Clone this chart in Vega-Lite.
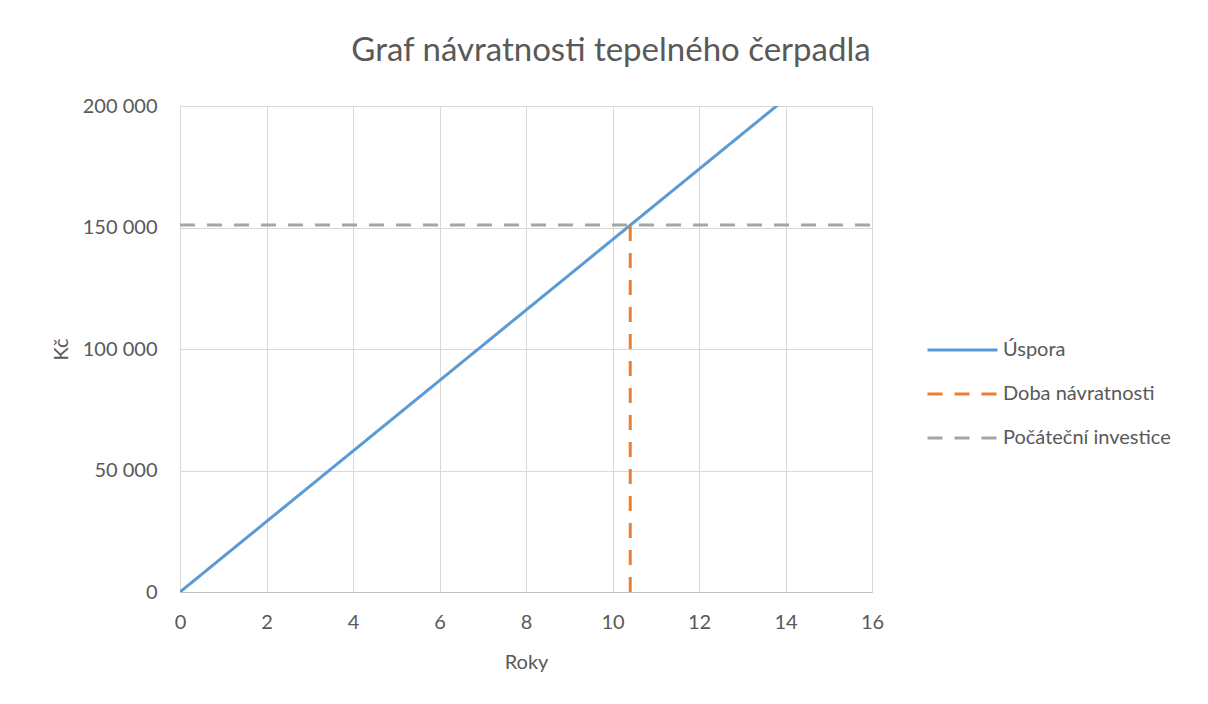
{
  "$schema": "https://vega.github.io/schema/vega-lite/v6.json",
  "width": 692,
  "height": 486,
  "autosize": {"type": "none"},
  "padding": {"left": 180, "top": 106, "right": 336, "bottom": 112},
  "background": "white",
  "title": {
    "text": "Graf návratnosti tepelného čerpadla",
    "anchor": "middle",
    "dx": 85,
    "dy": 40,
    "offset": 42,
    "baseline": "alphabetic",
    "font": "Lato",
    "fontWeight": "normal",
    "fontSize": 33,
    "color": "#595959"
  },
  "data": {
    "values": [
      {"x": 0, "y": 0, "series": "Úspora", "o": 0},
      {"x": 1, "y": 14500, "series": "Úspora", "o": 1},
      {"x": 2, "y": 29000, "series": "Úspora", "o": 2},
      {"x": 3, "y": 43500, "series": "Úspora", "o": 3},
      {"x": 4, "y": 58000, "series": "Úspora", "o": 4},
      {"x": 5, "y": 72500, "series": "Úspora", "o": 5},
      {"x": 6, "y": 87000, "series": "Úspora", "o": 6},
      {"x": 7, "y": 101500, "series": "Úspora", "o": 7},
      {"x": 8, "y": 116000, "series": "Úspora", "o": 8},
      {"x": 9, "y": 130500, "series": "Úspora", "o": 9},
      {"x": 10, "y": 145000, "series": "Úspora", "o": 10},
      {"x": 11, "y": 159500, "series": "Úspora", "o": 11},
      {"x": 12, "y": 174000, "series": "Úspora", "o": 12},
      {"x": 13, "y": 188500, "series": "Úspora", "o": 13},
      {"x": 14, "y": 203000, "series": "Úspora", "o": 14},
      {"x": 15, "y": 217500, "series": "Úspora", "o": 15},
      {"x": 16, "y": 232000, "series": "Úspora", "o": 16},
      {"x": 10.41, "y": 0, "series": "Doba návratnosti", "o": 0},
      {"x": 10.41, "y": 151000, "series": "Doba návratnosti", "o": 1},
      {"x": 0, "y": 151000, "series": "Počáteční investice", "o": 0},
      {"x": 16, "y": 151000, "series": "Počáteční investice", "o": 1}
    ]
  },
  "mark": {"type": "line", "strokeWidth": 3, "clip": true},
  "encoding": {
    "x": {
      "field": "x",
      "type": "quantitative",
      "scale": {"domain": [0, 16], "nice": false, "zero": true},
      "axis": {
        "title": "Roky",
        "values": [0, 2, 4, 6, 8, 10, 12, 14, 16],
        "format": "d",
        "ticks": false,
        "domain": true,
        "domainColor": "#bfbfbf",
        "labelFlush": false,
        "labelPadding": 20,
        "titlePadding": 20
      }
    },
    "y": {
      "field": "y",
      "type": "quantitative",
      "scale": {"domain": [0, 200000], "nice": false},
      "axis": {
        "title": "Kč",
        "values": [0, 50000, 100000, 150000, 200000],
        "format": ",d",
        "ticks": false,
        "domain": false,
        "labelFlush": false,
        "labelPadding": 23,
        "titlePadding": 11
      }
    },
    "order": {"field": "o", "type": "quantitative"},
    "color": {
      "field": "series",
      "type": "nominal",
      "scale": {
        "domain": ["Úspora", "Doba návratnosti", "Počáteční investice"],
        "range": ["#5b9bd5", "#ed7d31", "#a5a5a5"]
      },
      "legend": {
        "title": null,
        "orient": "none",
        "legendX": 746,
        "legendY": 234,
        "symbolType": "stroke",
        "symbolSize": 4900,
        "symbolStrokeWidth": 3,
        "clipHeight": 20,
        "rowPadding": 24,
        "labelOffset": 4,
        "labelLimit": 400,
        "labelFont": "Lato",
        "labelFontSize": 20,
        "labelColor": "#595959"
      }
    },
    "strokeDash": {
      "field": "series",
      "type": "nominal",
      "scale": {
        "domain": ["Úspora", "Doba návratnosti", "Počáteční investice"],
        "range": [[1, 0], [15, 12], [15, 12]]
      },
      "legend": {
        "title": null,
        "orient": "none",
        "legendX": 746,
        "legendY": 234,
        "symbolType": "stroke",
        "symbolSize": 4900,
        "symbolStrokeWidth": 3,
        "clipHeight": 20,
        "rowPadding": 24,
        "labelOffset": 4,
        "labelLimit": 400,
        "labelFont": "Lato",
        "labelFontSize": 20,
        "labelColor": "#595959"
      }
    }
  },
  "config": {
    "locale": {
      "number": {"decimal": ",", "thousands": " ", "grouping": [3], "currency": ["", " Kč"]}
    },
    "view": {"stroke": null},
    "axis": {
      "grid": true,
      "gridColor": "#d9d9d9",
      "gridWidth": 1,
      "labelFont": "Lato",
      "labelFontSize": 20,
      "labelColor": "#595959",
      "titleFont": "Lato",
      "titleFontSize": 20,
      "titleFontWeight": "normal",
      "titleColor": "#595959"
    }
  }
}
